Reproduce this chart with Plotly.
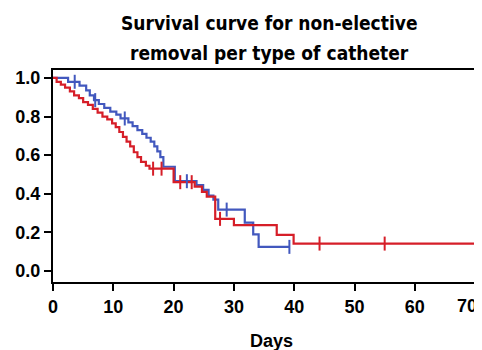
import plotly.graph_objects as go

# Red curve: event times (days) and survival after each event
red_t = [0, 0.6, 1.3, 2.0, 2.8, 3.5, 4.3, 5.0, 5.8, 6.6, 7.4, 8.2, 9.0, 9.8, 10.4, 11.0,
         11.6, 12.2, 12.8, 13.4, 14.0, 14.6, 15.4, 16.0, 20.0, 23.5, 24.7, 25.5, 26.9,
         30.0, 37.1, 39.9, 70.0]
red_s = [1.0, 0.98, 0.965, 0.95, 0.93, 0.91, 0.895, 0.875, 0.86, 0.84, 0.82, 0.80, 0.785,
         0.765, 0.745, 0.72, 0.695, 0.67, 0.645, 0.615, 0.59, 0.565, 0.545, 0.53, 0.46,
         0.437, 0.41, 0.385, 0.27, 0.238, 0.187, 0.142, 0.142]
red_cens_t = [16.6, 18.0, 21.1, 23.0, 27.7, 44.2, 55.0, 70.0]
red_cens_s = [0.53, 0.53, 0.46, 0.46, 0.27, 0.142, 0.142, 0.142]

# Blue curve
blue_t = [0, 2.5, 4.4, 5.5, 6.1, 6.8, 7.6, 8.5, 9.5, 10.5, 11.2, 12.5, 13.2, 14.0, 14.8,
          15.5, 16.2, 16.8, 17.3, 17.8, 18.3, 20.2, 23.8, 24.9, 25.8, 26.6, 27.4, 31.8,
          33.2, 34.1, 39.2]
blue_s = [1.0, 0.98, 0.96, 0.935, 0.91, 0.885, 0.865, 0.845, 0.825, 0.81, 0.79, 0.77,
          0.75, 0.73, 0.71, 0.69, 0.67, 0.645, 0.62, 0.59, 0.54, 0.465, 0.445, 0.42, 0.39,
          0.37, 0.318, 0.25, 0.19, 0.125, 0.125]
blue_cens_t = [3.6, 7.0, 11.9, 22.2, 28.8, 39.2]
blue_cens_s = [0.98, 0.885, 0.79, 0.465, 0.318, 0.125]

x_ticks = [0, 10, 20, 30, 40, 50, 60, 70]
y_ticks = [0.0, 0.2, 0.4, 0.6, 0.8, 1.0]
y_tick_labels = ["0.0", "0.2", "0.4", "0.6", "0.8", "1.0"]
title_lines = ["Survival curve for non-elective", "removal per type of catheter"]
x_title = "Days"

RED = "rgb(214,30,40)"
BLUE = "rgb(66,88,190)"
FONT = "Liberation Sans, Arial, sans-serif"
TFONT = "DejaVu Sans Condensed, Liberation Sans, sans-serif"

fig = go.Figure()
fig.add_trace(go.Scatter(x=blue_t, y=blue_s, mode="lines", line=dict(color=BLUE, width=2.2, shape="hv"),
                         showlegend=False, cliponaxis=False))
fig.add_trace(go.Scatter(x=red_t, y=red_s, mode="lines", line=dict(color=RED, width=2.2, shape="hv"),
                         showlegend=False, cliponaxis=False))
fig.add_trace(go.Scatter(x=blue_cens_t, y=blue_cens_s, mode="markers",
                         marker=dict(symbol="line-ns", size=10, line=dict(color=BLUE, width=2)),
                         showlegend=False, cliponaxis=False))
fig.add_trace(go.Scatter(x=red_cens_t, y=red_cens_s, mode="markers",
                         marker=dict(symbol="line-ns", size=10, line=dict(color=RED, width=2)),
                         showlegend=False, cliponaxis=False))

PH = 212.0  # plot height in px
for line, top_px in zip(title_lines, [2.0, 32.0]):
    fig.add_annotation(text=line, xref="paper", yref="paper", x=0.505, y=(274.0 - top_px) / PH,
                       xanchor="center", yanchor="top", showarrow=False, align="center",
                       font=dict(family=TFONT, size=19, color="black", weight="bold"))
fig.add_annotation(text=x_title, xref="paper", yref="paper", x=0.51, y=(274.0 - 321.0) / PH,
                   xanchor="center", yanchor="top", showarrow=False,
                   font=dict(family=FONT, size=18, color="black", weight="bold"))
# last x tick label, kept fully inside the page at the right edge
fig.add_annotation(text=str(x_ticks[-1]), xref="paper", yref="paper", x=1.0, y=(274.0 - 286.0) / PH,
                   xanchor="right", yanchor="top", showarrow=False, xshift=-3,
                   font=dict(family=FONT, size=18, color="black", weight="bold"))

fig.update_layout(
    width=474, height=342,
    margin=dict(l=45, r=0, t=62, b=68, autoexpand=False),
    paper_bgcolor="white", plot_bgcolor="white",
    xaxis=dict(range=[0, 71.14], tickvals=x_ticks, ticktext=[str(v) for v in x_ticks[:-1]] + [""],
               automargin=False,
               showgrid=False, zeroline=False, showline=True, linecolor="black", linewidth=2,
               mirror=True, ticks="outside", ticklen=7, tickwidth=2, tickcolor="black",
               tickfont=dict(family=FONT, size=18, color="black", weight="bold")),
    yaxis=dict(range=[-0.057, 1.041], tickvals=y_ticks, ticktext=y_tick_labels,
               automargin=False,
               showgrid=False, zeroline=False, showline=True, linecolor="black", linewidth=2,
               mirror=False, ticks="outside", ticklen=7, tickwidth=2, tickcolor="black",
               tickfont=dict(family=FONT, size=18, color="black", weight="bold")),
)

fig.write_html("out.html")
